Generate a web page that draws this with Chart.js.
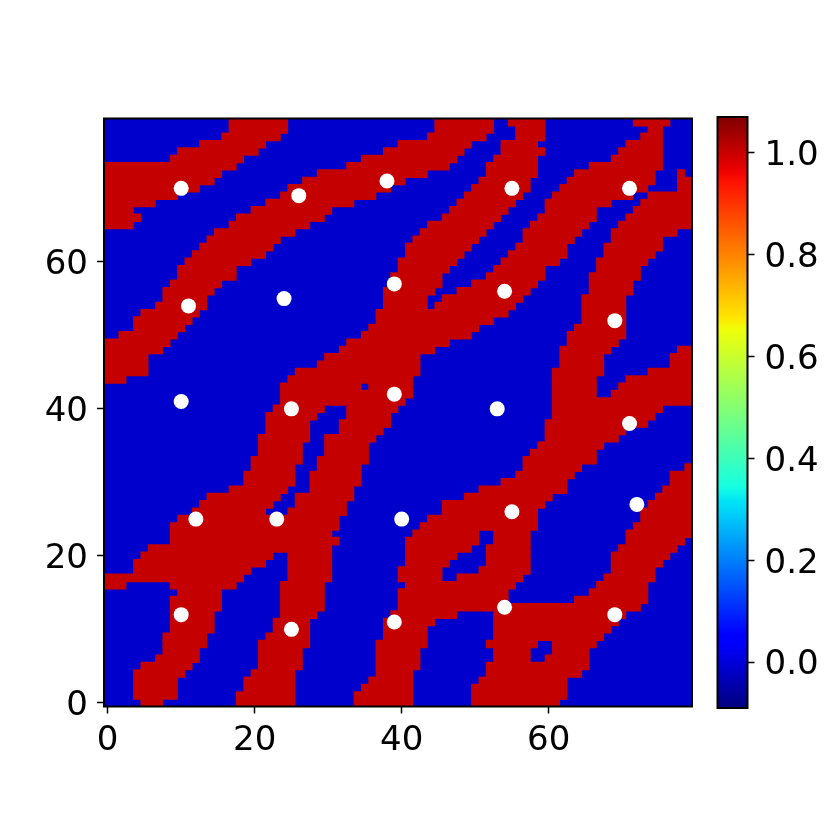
<!DOCTYPE html>
<html>
<head>
<meta charset="utf-8">
<script src="https://cdn.jsdelivr.net/npm/chart.js@4"></script>
<style>
  html, body { margin: 0; padding: 0; background: #fff; }
  canvas { position: absolute; top: 0; }
</style>
</head>
<body>
<canvas id="heatmap" width="830" height="830" style="left:0"></canvas>
<canvas id="colorbar" width="130" height="830" style="left:700px"></canvas>
<script>
// cells equal to 1.0, per row, top row (y = 79) first: start,end,start,end...
const redRuns = [
  [17,25,45,53,55,60,72,77],
  [17,25,45,53,56,60,74,76],
  [16,24,44,52,56,60,73,76],
  [13,22,40,50,54,59,71,76],
  [10,21,38,49,54,60,70,76],
  [9,19,35,48,53,59,69,76],
  [0,18,33,47,52,59,66,76],
  [0,16,29,44,52,59,64,75,78,79],
  [0,15,27,41,51,58,63,75,78,80],
  [0,13,25,39,50,58,62,74,78,80],
  [0,10,24,37,49,57,61,72,74,80],
  [0,7,22,34,48,56,60,69,73,80],
  [0,4,20,31,47,55,60,67,72,80],
  [0,5,18,30,46,54,59,67,71,80],
  [0,4,17,28,44,53,58,66,70,80],
  [15,26,43,52,57,65,69,78],
  [14,24,42,51,57,64,69,76],
  [13,23,41,50,56,63,68,76],
  [12,22,41,49,55,63,68,75],
  [11,20,40,48,54,62,67,74],
  [10,18,40,47,53,60,67,73],
  [10,18,39,46,52,60,66,73],
  [9,16,39,46,50,59,66,72],
  [8,15,38,45,48,58,66,72],
  [8,14,38,44,46,57,65,71],
  [7,14,38,44,45,56,65,71],
  [5,13,37,55,65,71],
  [4,12,37,53,65,71],
  [4,11,36,51,64,71],
  [2,10,35,50,63,71],
  [0,9,33,47,63,70],
  [0,8,32,45,62,69,78,80],
  [0,6,30,43,62,68,77,80],
  [0,6,29,43,62,68,77,80],
  [0,6,26,43,61,68,74,80],
  [0,3,25,42,61,67,71,80],
  [24,35,36,42,61,67,70,80],
  [24,42,61,67,69,80],
  [24,41,61,80],
  [23,30,33,40,61,76],
  [22,29,33,39,61,75],
  [22,28,32,39,60,74],
  [22,28,32,38,60,71],
  [21,28,30,37,60,70],
  [21,27,30,36,59,68],
  [21,27,30,36,58,67],
  [20,27,29,36,57,67],
  [20,26,29,35,57,65,79,80],
  [19,26,28,35,56,64,77,80],
  [19,26,28,35,54,63,77,80],
  [17,25,28,34,51,63,76,80],
  [14,24,26,34,49,61,75,80],
  [13,23,26,33,46,60,74,80],
  [12,22,25,33,46,59,73,80],
  [10,32,44,59,73,80],
  [9,32,43,59,72,80],
  [9,31,42,51,53,58,71,80],
  [9,32,41,51,53,58,71,79],
  [6,31,41,50,52,58,70,78],
  [5,23,25,31,41,48,52,58,69,77],
  [4,22,25,31,41,47,52,58,69,76],
  [4,20,25,31,40,46,51,58,69,75],
  [0,19,25,31,40,46,48,57,68,75],
  [0,3,9,18,24,30,41,56,67,74],
  [10,16,24,30,40,55,66,74],
  [9,16,24,30,40,55,64,74],
  [9,16,24,30,40,73],
  [9,15,24,29,39,48,53,71],
  [9,15,23,28,38,45,53,70],
  [9,15,23,28,38,44,53,69],
  [8,14,22,28,38,44,53,68],
  [8,14,21,28,37,44,52,59,61,67],
  [8,13,21,27,37,43,53,58,61,66],
  [7,13,21,27,37,43,53,58,60,66],
  [5,12,21,27,37,43,52,66],
  [4,11,20,26,37,42,52,65],
  [4,10,19,26,36,42,51,63],
  [4,10,19,26,35,42,50,63],
  [4,10,18,26,34,42,50,63],
  [5,8,18,26,34,42,50,62]
];

// white markers
const pointX = [10,26,38,55,71,11,24,39,54,69,10,25,39,53,71,12,23,40,55,72,10,25,39,54,69];
const pointY = [70,69,71,70,70,54,55,57,56,52,41,40,42,40,38,25,25,25,26,27,12,10,11,13,12];

const axisTicks = [0,20,40,60];
const colorbarTicks = [0,0.2,0.4,0.6,0.8,1.0];
const colorbarRange = [-0.09,1.07];

// jet colormap
const jetStops = [
  [0,'#00007f'],[0.11,'#0000ff'],[0.125,'#0000ff'],[0.35,'#00e4f7'],[0.375,'#16ffe1'],
  [0.5,'#7dff7a'],[0.64,'#eeff08'],[0.66,'#ffe600'],[0.89,'#ff1200'],[0.91,'#ed0000'],[1,'#7f0000']
];

const tickFont = { family: '"DejaVu Sans"', size: 34 };

// turn the runs into floating bars
const redBars = [];
redRuns.forEach(function (runs, t) {
    for (let i = 0; i < runs.length; i += 2) {
        redBars.push({ x: [runs[i] - 0.5, runs[i + 1] - 0.5], y: 79 - t });
    }
});

const points = pointX.map((x, i) => ({ x: x, y: pointY[i] }));

// blue background and the black frame
const frame = {
    id: 'frame',
    beforeDatasetsDraw(chart) {
        const a = chart.chartArea;
        if (chart.canvas.id === 'heatmap') {
            chart.ctx.fillStyle = '#0000cc';
            chart.ctx.fillRect(a.left, a.top, a.width, a.height);
        }
    },
    afterDatasetsDraw(chart) {
        const a = chart.chartArea;
        const ctx = chart.ctx;
        ctx.save();
        ctx.strokeStyle = '#000';
        ctx.lineWidth = 2;
        ctx.strokeRect(a.left, a.top, a.width, a.height);
        ctx.restore();
    }
};

function axisOptions(size, padding, labelOffset) {
    return {
        type: 'linear',
        min: -0.5,
        max: 79.5,
        offset: false,
        grid: { offset: false, drawOnChartArea: false, drawTicks: true, tickLength: 7, tickColor: '#000', tickWidth: 1.5 },
        border: { display: false },
        afterBuildTicks(axis) { axis.ticks = axisTicks.map(v => ({ value: v })); },
        ticks: { color: '#000', font: tickFont, padding: padding, labelOffset: labelOffset, maxRotation: 0, autoSkip: false },
        afterFit(axis) {
            if (axis.axis === 'x') axis.height = size; else axis.width = size;
        }
    };
}

new Chart(document.getElementById('heatmap'), {
    data: {
        datasets: [
            { type: 'scatter', data: points, backgroundColor: '#fff', borderWidth: 0, pointRadius: 7.5, order: 0 },
            { type: 'bar', indexAxis: 'y', data: redBars, backgroundColor: '#c40000', barThickness: 7.9, grouped: false, order: 1 }
        ]
    },
    options: {
        responsive: false,
        animation: false,
        layout: { padding: { left: 0, top: 118.5, right: 138, bottom: 0 } },
        plugins: { legend: { display: false }, tooltip: { enabled: false } },
        scales: { x: axisOptions(123.5, 7, 0), y: axisOptions(104, 9, 3) }
    },
    plugins: [frame]
});

function jetGradient(context) {
    const chart = context.chart;
    if (!chart.chartArea) return '#000';
    const g = chart.ctx.createLinearGradient(0, chart.chartArea.bottom, 0, chart.chartArea.top);
    jetStops.forEach(s => g.addColorStop(s[0], s[1]));
    return g;
}

new Chart(document.getElementById('colorbar'), {
    type: 'bar',
    data: {
        labels: ['jet'],
        datasets: [{ data: [colorbarRange], backgroundColor: jetGradient, barPercentage: 1, categoryPercentage: 1 }]
    },
    options: {
        responsive: false,
        animation: false,
        layout: { padding: { left: 17.5, top: 117, right: 0, bottom: 122 } },
        plugins: { legend: { display: false }, tooltip: { enabled: false } },
        scales: {
            x: { display: false, offset: true },
            y: {
                type: 'linear',
                position: 'right',
                min: colorbarRange[0],
                max: colorbarRange[1],
                grid: { drawOnChartArea: false, drawTicks: true, tickLength: 7, tickColor: '#000', tickWidth: 1.5 },
                border: { display: false },
                afterBuildTicks(axis) { axis.ticks = colorbarTicks.map(v => ({ value: v })); },
                ticks: { color: '#000', font: tickFont, padding: 10, labelOffset: 3.5, callback: v => v.toFixed(1) },
                afterFit(axis) { axis.width = 82.5; }
            }
        }
    },
    plugins: [frame]
});
</script>
</body>
</html>
